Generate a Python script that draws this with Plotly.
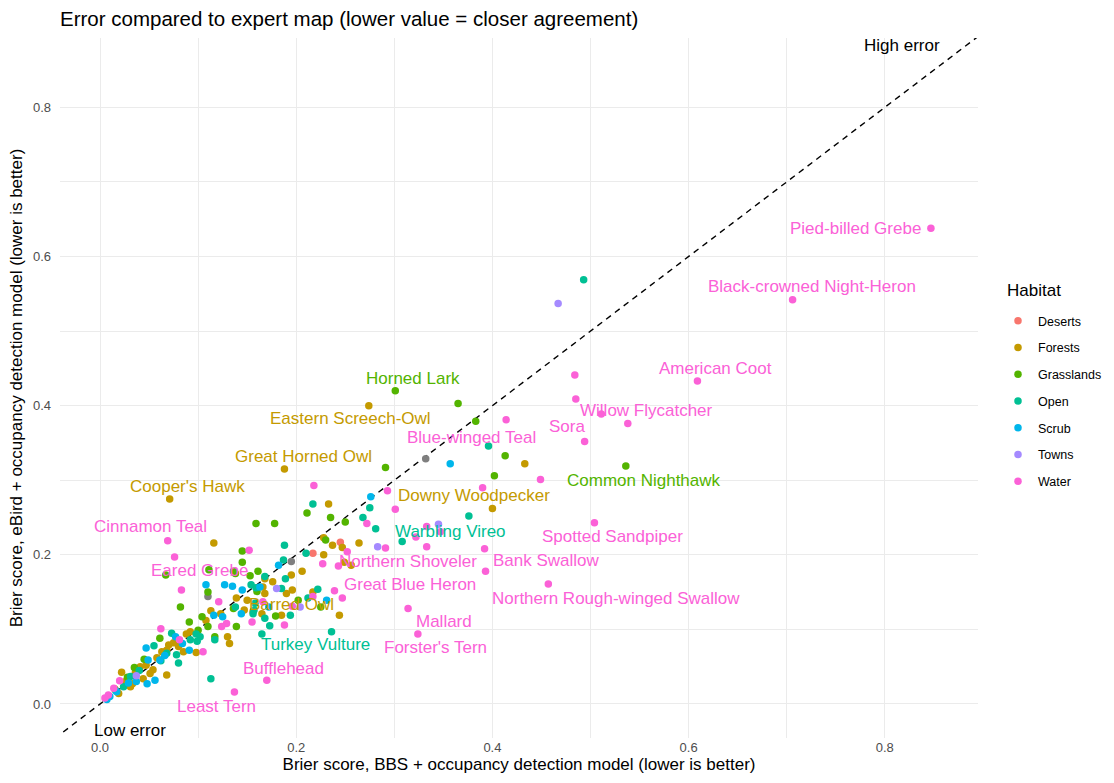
import plotly.graph_objects as go

# ---------------- data ----------------
habitats = ["Deserts", "Forests", "Grasslands", "Open", "Scrub", "Towns", "Water"]

deserts_x = [0.245, 0.217]
deserts_y = [0.217, 0.202]

forests_x = [0.433, 0.233, 0.116, 0.228, 0.264, 0.237, 0.247, 0.228, 0.249, 0.256, 0.206, 0.195,
             0.166, 0.176, 0.168, 0.190, 0.196, 0.217, 0.244, 0.168, 0.139, 0.150, 0.147, 0.123,
             0.130, 0.132, 0.092, 0.098, 0.085, 0.080, 0.070, 0.068, 0.054, 0.051, 0.044, 0.041,
             0.031, 0.022, 0.165, 0.156, 0.015, 0.026, 0.036, 0.058, 0.063, 0.075, 0.088, 0.108,
             0.113, 0.068, 0.019, 0.033, 0.047]
forests_y = [0.322, 0.268, 0.216, 0.223, 0.216, 0.213, 0.210, 0.200, 0.190, 0.186, 0.178, 0.173,
             0.157, 0.164, 0.148, 0.148, 0.153, 0.150, 0.119, 0.168, 0.142, 0.139, 0.126, 0.121,
             0.090, 0.081, 0.097, 0.069, 0.070, 0.077, 0.079, 0.039, 0.046, 0.041, 0.034, 0.050,
             0.023, 0.0425, 0.121, 0.124, 0.020, 0.030, 0.042, 0.062, 0.070, 0.082, 0.094, 0.112,
             0.125, 0.072, 0.014, 0.027, 0.052]

grass_x = [0.365, 0.383, 0.413, 0.291, 0.402, 0.250, 0.211, 0.235, 0.159, 0.178, 0.230, 0.145,
           0.145, 0.111, 0.136, 0.161, 0.153, 0.110, 0.202, 0.225, 0.067, 0.082, 0.091, 0.138,
           0.160, 0.110, 0.117, 0.139, 0.100, 0.061, 0.035, 0.179, 0.104, 0.136, 0.028, 0.045]
grass_y = [0.403, 0.379, 0.333, 0.317, 0.306, 0.244, 0.256, 0.250, 0.242, 0.242, 0.220, 0.205,
           0.190, 0.180, 0.178, 0.178, 0.172, 0.150, 0.139, 0.130, 0.173, 0.130, 0.110, 0.175,
           0.151, 0.104, 0.090, 0.104, 0.099, 0.088, 0.049, 0.118, 0.117, 0.128, 0.036, 0.060]

open_x = [0.493, 0.396, 0.275, 0.268, 0.281, 0.308, 0.217, 0.188, 0.210, 0.189, 0.159, 0.185,
          0.222, 0.212, 0.187, 0.168, 0.154, 0.158, 0.138, 0.156, 0.168, 0.165, 0.173, 0.194,
          0.157, 0.117, 0.113, 0.073, 0.068, 0.078, 0.080, 0.092, 0.099, 0.098, 0.102, 0.055,
          0.031, 0.024, 0.040, 0.062, 0.016]
open_y = [0.569, 0.346, 0.263, 0.250, 0.235, 0.218, 0.268, 0.213, 0.202, 0.168, 0.156, 0.155,
          0.154, 0.142, 0.193, 0.171, 0.160, 0.135, 0.130, 0.121, 0.115, 0.094, 0.105, 0.119,
          0.126, 0.086, 0.034, 0.095, 0.068, 0.066, 0.055, 0.086, 0.084, 0.094, 0.090, 0.078,
          0.037, 0.023, 0.045, 0.058, 0.018]

scrub_x = [0.357, 0.276, 0.182, 0.108, 0.127, 0.135, 0.145, 0.231, 0.172, 0.163, 0.116, 0.125,
           0.144, 0.077, 0.084, 0.091, 0.047, 0.049, 0.061, 0.048, 0.029, 0.017, 0.010, 0.056,
           0.037, 0.066, 0.007]
scrub_y = [0.322, 0.278, 0.186, 0.160, 0.160, 0.158, 0.153, 0.139, 0.130, 0.157, 0.119, 0.117,
           0.121, 0.090, 0.081, 0.072, 0.075, 0.059, 0.059, 0.027, 0.028, 0.0165, 0.010, 0.032,
           0.030, 0.065, 0.006]

towns_x = [0.467, 0.345, 0.283, 0.180, 0.204, 0.037]
towns_y = [0.537, 0.241, 0.211, 0.155, 0.130, 0.038]

water_x = [0.484, 0.485, 0.511, 0.449, 0.390, 0.293, 0.301, 0.272, 0.333, 0.347, 0.322, 0.291,
           0.393, 0.218, 0.152, 0.252, 0.227, 0.243, 0.239, 0.217, 0.121, 0.196, 0.076, 0.062,
           0.166, 0.155, 0.129, 0.124, 0.188, 0.081, 0.105, 0.020, 0.014, 0.005, 0.0085]
water_y = [0.441, 0.409, 0.389, 0.301, 0.290, 0.286, 0.261, 0.242, 0.238, 0.231, 0.224, 0.209,
           0.178, 0.293, 0.206, 0.204, 0.188, 0.185, 0.152, 0.144, 0.137, 0.131, 0.197, 0.101,
           0.137, 0.110, 0.108, 0.104, 0.106, 0.086, 0.070, 0.031, 0.021, 0.008, 0.012]

unassigned_x = [0.332, 0.195, 0.110]
unassigned_y = [0.329, 0.191, 0.144]

# labelled species
label_names = ["Pied-billed Grebe", "Black-crowned Night-Heron", "American Coot", "Willow Flycatcher",
               "Sora", "Common Nighthawk", "Spotted Sandpiper", "Bank Swallow",
               "Northern Rough-winged Swallow", "Mallard", "Forster's Tern", "Great Blue Heron",
               "Northern Shoveler", "Warbling Vireo", "Blue-winged Teal", "Downy Woodpecker",
               "Horned Lark", "Eastern Screech-Owl", "Great Horned Owl", "Cooper's Hawk",
               "Cinnamon Teal", "Eared Grebe", "Barred Owl", "Turkey Vulture", "Bufflehead",
               "Least Tern"]
label_habitat = ["Water", "Water", "Water", "Water", "Water", "Grasslands", "Water", "Water",
                 "Water", "Water", "Water", "Water", "Water", "Open", "Water", "Forests",
                 "Grasslands", "Forests", "Forests", "Forests", "Water", "Water", "Forests",
                 "Open", "Water", "Water"]
label_x = [0.847, 0.706, 0.609, 0.538, 0.494, 0.536, 0.504, 0.392, 0.457, 0.314, 0.324, 0.247,
           0.333, 0.376, 0.414, 0.400, 0.301, 0.274, 0.188, 0.071, 0.069, 0.083, 0.185, 0.236,
           0.170, 0.137]
label_y = [0.638, 0.542, 0.433, 0.376, 0.352, 0.319, 0.243, 0.208, 0.161, 0.128, 0.094, 0.142,
           0.211, 0.252, 0.381, 0.262, 0.420, 0.400, 0.315, 0.275, 0.219, 0.153, 0.119, 0.097,
           0.032, 0.016]

# ---------------- styling ----------------
colors = {"Deserts": "#F8766D", "Forests": "#C49A00", "Grasslands": "#53B400", "Open": "#00C094",
          "Scrub": "#00B6EB", "Towns": "#A58AFF", "Water": "#FB61D7"}
# label text offsets in pixels (xshift, yshift)
label_shift = [(-75, 0), (19, 13), (18, 13), (19, 13), (-18, 15), (18, -14), (18, -14), (62, -12),
               (68, -15), (36, -13), (18, -14), (68, 14), (-19, -15), (-18, -15), (-35, -18),
               (-18, 13), (18, 12), (-18, -13), (19, 13), (18, 12), (-17, 14), (18, 19), (10, 11),
               (-16, -13), (17, 12), (-18, -14)]

FONT = "Liberation Sans, Arial, Helvetica, sans-serif"
XR = [-0.0408, 0.895]
YR = [-0.0456, 0.893]

series = {
    "Deserts": (deserts_x, deserts_y),
    "Forests": (forests_x, forests_y),
    "Grasslands": (grass_x, grass_y),
    "Open": (open_x, open_y),
    "Scrub": (scrub_x, scrub_y),
    "Towns": (towns_x, towns_y),
    "Water": (water_x, water_y),
}

MS = 7.5
fig = go.Figure()

# diagonal reference line y = x
fig.add_trace(go.Scatter(x=[-0.1, 1.0], y=[-0.1, 1.0], mode="lines",
                         line=dict(color="black", width=1.4, dash="6px,5px"),
                         showlegend=False, hoverinfo="skip"))

fig.add_trace(go.Scatter(x=unassigned_x, y=unassigned_y, mode="markers",
                         marker=dict(color="#7F7F7F", size=MS), showlegend=False))

for h in habitats:
    xs, ys = series[h]
    lx = [x for x, hh in zip(label_x, label_habitat) if hh == h]
    ly = [y for y, hh in zip(label_y, label_habitat) if hh == h]
    fig.add_trace(go.Scatter(x=list(xs) + lx, y=list(ys) + ly, mode="markers", name=h,
                             legendgroup=h,
                             marker=dict(color=colors[h], size=MS, line=dict(width=0))))

annotations = []
for name, hab, x, y, (dx, dy) in zip(label_names, label_habitat, label_x, label_y, label_shift):
    annotations.append(dict(x=x, y=y, xref="x", yref="y", text=name, showarrow=False,
                            xshift=dx, yshift=dy, font=dict(family=FONT, size=17, color=colors[hab])))

annotations.append(dict(x=0.031, y=-0.036, xref="x", yref="y", text="Low error", showarrow=False,
                        font=dict(family=FONT, size=17, color="black")))
annotations.append(dict(x=0.818, y=0.883, xref="x", yref="y", text="High error", showarrow=False,
                        font=dict(family=FONT, size=17, color="black")))
# legend title
annotations.append(dict(x=(1005 - 60) / 918, y=(738 - 290) / 700, xref="paper", yref="paper",
                        xanchor="left", yanchor="middle", text="Habitat", showarrow=False,
                        font=dict(family=FONT, size=17, color="black")))

grid = "#EBEBEB"
fig.update_layout(
    width=1114, height=783,
    margin=dict(l=60, r=136, t=38, b=45),
    paper_bgcolor="white", plot_bgcolor="white",
    font=dict(family=FONT, color="black"),
    title=dict(text="Error compared to expert map (lower value = closer agreement)",
               x=0, xref="paper", xanchor="left", y=1 - 19 / 783, yanchor="middle",
               font=dict(family=FONT, size=20.5, color="black")),
    xaxis=dict(range=XR, tickvals=[0, 0.2, 0.4, 0.6, 0.8], ticktext=["0.0", "0.2", "0.4", "0.6", "0.8"],
               showgrid=True, gridcolor=grid, gridwidth=1.1, zeroline=False, showline=False,
               automargin=False,
               ticks="", tickfont=dict(size=13, color="#4D4D4D"),
               minor=dict(tickvals=[0.1, 0.3, 0.5, 0.7], showgrid=True, gridcolor=grid, gridwidth=0.6),
               title=dict(text="Brier score, BBS + occupancy detection model (lower is better)",
                          font=dict(size=17, color="black"), standoff=4)),
    yaxis=dict(range=YR, tickvals=[0, 0.2, 0.4, 0.6, 0.8], ticktext=["0.0", "0.2", "0.4", "0.6", "0.8"],
               showgrid=True, gridcolor=grid, gridwidth=1.1, zeroline=False, showline=False,
               automargin=False, ticklabelstandoff=8,
               ticks="", tickfont=dict(size=13, color="#4D4D4D"),
               minor=dict(tickvals=[0.1, 0.3, 0.5, 0.7], showgrid=True, gridcolor=grid, gridwidth=0.6),
               title=dict(text="Brier score, eBird + occupancy detection model (lower is better)",
                          font=dict(size=17, color="black"), standoff=5)),
    legend=dict(font=dict(size=12.5), xref="container", yref="container",
                x=998 / 1114, xanchor="left", y=1 - 306 / 783, yanchor="top", tracegroupgap=7.5,
                bgcolor="rgba(0,0,0,0)"),
    annotations=annotations,
    showlegend=True,
)

fig.write_html("out.html", config={"displayModeBar": False},
               post_script="document.body.style.margin='0';document.body.style.overflow='hidden';")
